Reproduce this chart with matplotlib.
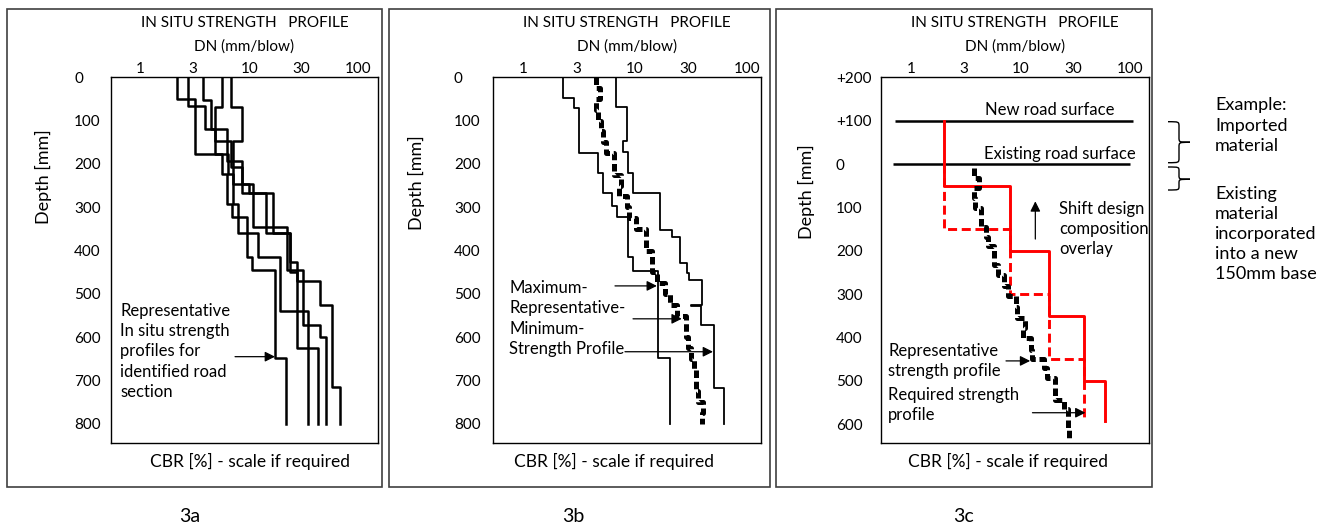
import matplotlib.pyplot as plt
from matplotlib.patches import Rectangle, PathPatch
from matplotlib.path import Path
from matplotlib.transforms import Affine2D

plt.rcParams['font.family'] = ['Lato', 'DejaVu Sans']

W, H = 1326, 527

# shared axis ticks
dn_ticks = [1, 3, 10, 30, 100]
depth_ticks_ab = [0, 100, 200, 300, 400, 500, 600, 700, 800]
depth_ticks_c = [-200, -100, 0, 100, 200, 300, 400, 500, 600]
depth_labels_c = ['+200', '+100', '0', '100', '200', '300', '400', '500', '600']

# 3a - five DCP profiles: layer boundaries [mm] and DN per layer [mm/blow]
a1_depth = [0, 50, 176, 224, 292, 323, 414, 445, 649, 800]
a1_dn = [2.17, 3.16, 5.56, 6.18, 6.87, 9.44, 10.5, 17.2, 21.7]
a2_depth = [0, 66, 120, 176, 224, 292, 359, 414, 540, 800]
a2_dn = [2.70, 3.9, 4.82, 6.4, 7.0, 7.9, 12.1, 19.1, 34.8]
a3_depth = [0, 52, 120, 193, 247, 266, 359, 450, 626, 800]
a3_dn = [3.77, 4.40, 6.18, 7.0, 9.98, 14.2, 23.6, 27.2, 43.1]
a4_depth = [0, 69, 147, 208, 266, 345, 445, 572, 599, 800]
a4_dn = [5.56, 4.82, 6.77, 8.49, 10.7, 22.0, 31.3, 44.6, 50.3]
a5_depth = [0, 69, 147, 193, 247, 266, 359, 426, 470, 526, 715, 800]
a5_dn = [6.77, 8.49, 7.0, 8.49, 10.7, 16.6, 23.6, 27.2, 44.6, 57.2, 68.2]

# 3b - envelope and representative profile
b_min_depth = [0, 48, 72, 175, 222, 268, 298, 322, 414, 448, 648, 800]
b_min_dn = [2.25, 2.86, 3.17, 4.69, 5.2, 6.18, 6.85, 8.59, 9.66, 16.2, 20.6]
b_max_depth = [0, 68, 148, 172, 222, 268, 352, 368, 429, 452, 468, 525, 529, 571, 718, 800]
b_max_dn = [6.76, 8.54, 7.87, 8.72, 9.66, 16.7, 21.6, 25.3, 29.0, 30.5, 39.5, 32.0, 39.0, 51.3, 63.0]
b_rep_depth = [0, 25, 50, 75, 100, 125, 150, 175, 200, 225, 250, 275, 300, 325, 350, 375, 400,
               425, 450, 475, 500, 525, 550, 575, 600, 625, 650, 675, 700, 725, 750, 775, 800]
b_rep_dn = [4.48, 4.86, 4.48, 4.7, 5.0, 5.2, 5.46, 6.53, 6.53, 7.5, 7.2, 8.42, 8.8, 10.3, 12.6, 12.6,
            14.1, 14.1, 15.6, 18.6, 20.6, 23.6, 28.6, 28.6, 30.0, 31.8, 34.0, 35.0, 35.0, 36.3, 40.9, 40.0]

# 3c - representative profile, required profile (design and shifted), road surfaces
c_rep_depth = [10, 33, 56, 79, 102, 124, 145, 168, 190, 212, 232, 257, 282, 305, 330, 355, 378,
               402, 428, 450, 470, 494, 518, 543, 566, 590, 612, 635]
c_rep_dn = [3.75, 4.17, 3.75, 3.8, 4.33, 4.33, 4.77, 5.02, 5.66, 5.66, 6.2, 7.1, 7.6, 9.0, 9.2, 10.9,
            10.5, 12.5, 12.8, 16.2, 17.5, 20.6, 20.6, 24.9, 26.8, 26.8, 27.9]
c_req_depth = [0, 150, 300, 450, 592]
c_req_dn = [2.0, 7.9, 18.1, 37.6]
c_shift_depth = [-100, 50, 200, 350, 500, 592]
c_shift_dn = [2.0, 7.9, 18.1, 37.6, 59.0]
surface_depth = [-100, 0]
surface_dn_from = [0.70, 0.68]
surface_dn_to = [106, 101]
surface_names = ['New road surface', 'Existing road surface']

REP_STYLE = (0, (1.5, 0.75))   # thick square dots of the representative profile


def steps(depth, dn):
    xs, ys = [], []
    for i, v in enumerate(dn):
        xs += [v, v]
        ys += [depth[i], depth[i + 1]]
    return xs, ys


fig = plt.figure(figsize=(W / 100, H / 100), dpi=100)
px = Affine2D().scale(1 / W, -1 / H).translate(0, 1) + fig.transFigure

TOP, BOT = 77.3, 443.3


def panel(left, right, xlim, ylim, yticks, ylabels, ypad, ylab_x, ylab_y, cbr_x):
    ax = fig.add_axes([left / W, 1 - BOT / H, (right - left) / W, (BOT - TOP) / H])
    ax.set_xscale('log')
    ax.set_xlim(xlim)
    ax.set_ylim(ylim)
    ax.minorticks_off()
    ax.xaxis.tick_top()
    ax.set_xticks(dn_ticks, [str(v) for v in dn_ticks])
    ax.set_yticks(yticks, ylabels)
    ax.tick_params(length=0, labelsize=11)
    ax.tick_params(axis='x', pad=1)
    ax.tick_params(axis='y', pad=ypad)
    for lab in ax.get_yticklabels():
        lab.set_horizontalalignment('left')
    for s in ax.spines.values():
        s.set_linewidth(1.0)
    ax.text(0.5, 1.149, 'IN SITU STRENGTH   PROFILE', transform=ax.transAxes,
            ha='center', va='center', fontsize=11)
    ax.text(0.5, 1.083, 'DN (mm/blow)', transform=ax.transAxes,
            ha='center', va='center', fontsize=11)
    ax.text(ylab_x, ylab_y, 'Depth [mm]', transform=ax.transAxes, rotation=90,
            ha='center', va='center', fontsize=13)
    ax.text(cbr_x, -0.051, 'CBR [%] - scale if required', transform=ax.transAxes,
            ha='center', va='center', fontsize=12.5)
    return ax


def arrow(ax, tail, head):
    ax.annotate('', xy=head, xytext=tail,
                arrowprops=dict(arrowstyle='-|>', color='black', lw=0.9,
                                mutation_scale=15, shrinkA=0, shrinkB=0))


# outer frames
for x0, x1 in [(6.7, 381.7), (389.3, 769.6), (776.4, 1151.8)]:
    fig.add_artist(Rectangle((x0, 9.3), x1 - x0, 486.7 - 9.3, transform=px,
                             fill=False, ec='#404040', lw=1.2))

# ---- 3a ----
ax1 = panel(110.7, 378.3, (0.530, 153.4), (845, 0), depth_ticks_ab,
            [str(v) for v in depth_ticks_ab], 26.4, -0.253, 0.728, 0.52)
for d, v in [(a1_depth, a1_dn), (a2_depth, a2_dn), (a3_depth, a3_dn),
             (a4_depth, a4_dn), (a5_depth, a5_dn)]:
    xs, ys = steps(d, v)
    ax1.plot(xs, ys, color='black', lw=1.8)
ax1.text(0.646, 633, 'Representative\nIn situ strength\nprofiles for\nidentified road\nsection',
         ha='left', va='center', fontsize=12, linespacing=1.32)
arrow(ax1, (7.38, 645), (17.2, 645))

# ---- 3b ----
ax2 = panel(493.3, 760.7, (0.539, 133.4), (845, 0), depth_ticks_ab,
            [str(v) for v in depth_ticks_ab], 28.3, -0.289, 0.711, 0.45)
for d, v in [(b_min_depth, b_min_dn), (b_max_depth, b_max_dn)]:
    xs, ys = steps(d, v)
    ax2.plot(xs, ys, color='black', lw=1.3)
xs, ys = steps(b_rep_depth, b_rep_dn)
ax2.plot(xs, ys, color='black', lw=3.6, linestyle=REP_STYLE)
ax2.text(0.745, 557, 'Maximum-\nRepresentative-\nMinimum-\nStrength Profile',
         ha='left', va='center', fontsize=12, linespacing=1.32)
arrow(ax2, (6.62, 481.6), (15.7, 481.6))
arrow(ax2, (9.6, 557.6), (26.2, 557.6))
arrow(ax2, (8.13, 633.6), (49.9, 633.6))

# ---- 3c ----
ax3 = panel(881, 1148.5, (0.526, 147.7), (644, -200), depth_ticks_c,
            depth_labels_c, 32.4, -0.277, 0.689, 0.476)
ax3.hlines(surface_depth, surface_dn_from, surface_dn_to, color='black', lw=1.8)
ax3.text(18.3, -124, surface_names[0], ha='center', va='center', fontsize=12)
ax3.text(22.9, -23, surface_names[1], ha='center', va='center', fontsize=12)
xs, ys = steps(c_req_depth, c_req_dn)
ax3.plot(xs, ys, color='#ff0000', lw=2.1, linestyle=(0, (3.1, 1.6)))
xs, ys = steps(c_shift_depth, c_shift_dn)
ax3.plot(xs, ys, color='#ff0000', lw=2.1)
xs, ys = steps(c_rep_depth, c_rep_dn)
ax3.plot(xs, ys, color='black', lw=3.6, linestyle=REP_STYLE)
ax3.text(22.6, 150, 'Shift design\ncomposition\noverlay', ha='left', va='center',
         fontsize=12, linespacing=1.34)
arrow(ax3, (13.6, 173), (13.6, 86))
ax3.text(0.61, 454, 'Representative\nstrength profile', ha='left', va='center',
         fontsize=12, linespacing=1.32)
ax3.text(0.61, 556, 'Required strength\nprofile', ha='left', va='center',
         fontsize=12, linespacing=1.32)
arrow(ax3, (7.33, 454), (12.2, 454))
arrow(ax3, (12.8, 573.5), (39.1, 573.5))


# braces on the right of 3c
def brace(x0, x1, ytop, ybot, ytip, r=5):
    xm = (x0 + x1) / 2
    verts = [(x0, ytop), (xm, ytop), (xm, ytop), (xm, ytop + r),
             (xm, ytip - r), (xm, ytip), (xm, ytip), (x1, ytip),
             (xm, ytip), (xm, ytip), (xm, ytip + r),
             (xm, ybot - r), (xm, ybot), (xm, ybot), (x0, ybot)]
    codes = [Path.MOVETO, Path.CURVE4, Path.CURVE4, Path.CURVE4,
             Path.LINETO, Path.CURVE4, Path.CURVE4, Path.CURVE4,
             Path.CURVE4, Path.CURVE4, Path.CURVE4,
             Path.LINETO, Path.CURVE4, Path.CURVE4, Path.CURVE4]
    fig.add_artist(PathPatch(Path(verts, codes), transform=px, fill=False,
                             ec='black', lw=1.0))


brace(1168, 1190, 121.7, 162.7, 142.3)
brace(1168, 1190, 167, 190, 179.3, r=4)
fig.text(1215, 125.5, 'Example:\nImported\nmaterial', transform=px, ha='left',
         va='center', fontsize=13, linespacing=1.31)
fig.text(1215, 234.2, 'Existing\nmaterial\nincorporated\ninto a new\n150mm base',
         transform=px, ha='left', va='center', fontsize=13, linespacing=1.31)

for lab, x in [('3a', 190), ('3b', 573), ('3c', 963)]:
    fig.text(x, 517, lab, transform=px, ha='center', va='center', fontsize=14)

fig.savefig('out.png', dpi=100)
